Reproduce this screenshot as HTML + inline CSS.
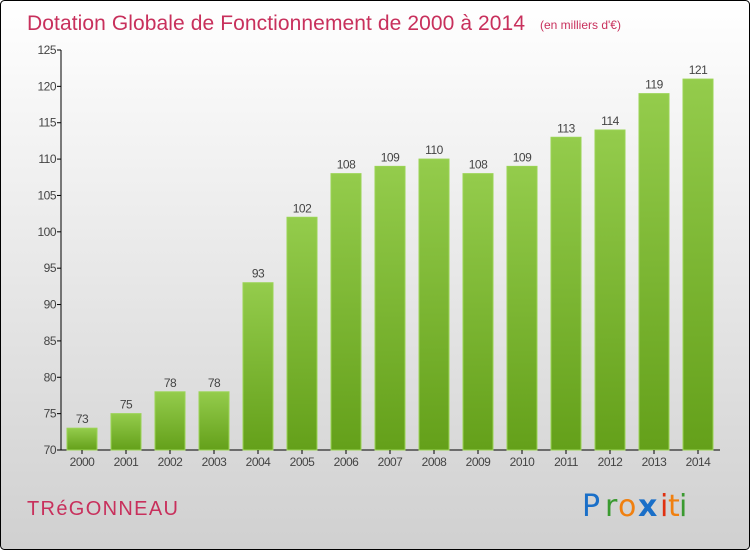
<!DOCTYPE html>
<html><head><meta charset="utf-8"><style>
html,body{margin:0;padding:0}
body{width:750px;height:550px;overflow:hidden;font-family:"Liberation Sans",sans-serif}
</style></head><body>
<svg width="750" height="550" xmlns="http://www.w3.org/2000/svg">
<defs>
<linearGradient id="bg" x1="0" y1="0" x2="0" y2="1"><stop offset="0" stop-color="#ffffff"/><stop offset="1" stop-color="#d0d0d0"/></linearGradient>
<linearGradient id="bar" x1="0" y1="0" x2="0" y2="1"><stop offset="0" stop-color="#94cc4c"/><stop offset="1" stop-color="#64a01a"/></linearGradient>
</defs>
<rect x="0.5" y="0.5" width="749" height="549" rx="4" fill="url(#bg)" stroke="#000"/>
<text x="27" y="30" font-size="21" fill="#c8305c" textLength="498">Dotation Globale de Fonctionnement de 2000 à 2014</text>
<text x="540" y="29" font-size="12" fill="#c8305c">(en milliers d'€)</text>
<g id="yaxis"></g>
<g id="bars"></g>
<text x="27" y="515" font-size="20" fill="#c8305c" textLength="151">TRéGONNEAU</text>
<g font-size="30" font-family="'DejaVu Sans',sans-serif">
<text x="582" y="516" fill="#1a6fc8">P</text><text x="605" y="516" fill="#3a9a30">r</text><text x="618" y="516" fill="#f08010">o</text><text x="638" y="516" fill="#1a6fc8" font-weight="bold">x</text><text x="660" y="516" fill="#e03010">i</text><text x="668" y="516" fill="#f08010">t</text><text x="679" y="516" fill="#3a9a30">i</text>
</g>
</svg>
<script>
const years=["2000","2001","2002","2003","2004","2005","2006","2007","2008","2009","2010","2011","2012","2013","2014"];
const values=[73,75,78,78,93,102,108,109,110,108,109,113,114,119,121];
const yTicks=[70,75,80,85,90,95,100,105,110,115,120,125];
const NS="http://www.w3.org/2000/svg";
const y0=450,y1=50,vMin=70,vMax=125,axisX=61;
function yS(v){return y0-(v-vMin)/(vMax-vMin)*(y0-y1);}
function xS(i){return 82+i*44;}
function mk(t,a,p){const e=document.createElementNS(NS,t);for(const k in a)e.setAttribute(k,a[k]);p.appendChild(e);return e;}
const ya=document.getElementById('yaxis');
let l=mk('line',{x1:axisX,y1:y1,x2:axisX,y2:y0,stroke:'#000'},ya);


l=mk('line',{x1:axisX,y1:y0,x2:720,y2:y0,stroke:'#000'},ya);


yTicks.forEach(v=>{
 const tk=mk('line',{x1:axisX-4,y1:yS(v),x2:axisX,y2:yS(v),stroke:'#000'},ya);
 
 
 const t=mk('text',{x:axisX-5,y:yS(v)+4,'font-size':12,fill:'#444','text-anchor':'end','letter-spacing':'-0.5'},ya);
 t.textContent=v;
 
 
});
const bg=document.getElementById('bars');
years.forEach((yr,i)=>{
 const x=xS(i),v=values[i];
 const r=mk('rect',{x:x-15,y:yS(v),width:30,height:y0-yS(v),fill:'url(#bar)',stroke:'#9ad454','stroke-width':1},bg);
 
 
 const t=mk('text',{x:x,y:yS(v)-5,'font-size':12,fill:'#444','text-anchor':'middle','letter-spacing':'-0.5'},bg);
 t.textContent=v;
 
 
 const tk=mk('line',{x1:x,y1:y0,x2:x,y2:y0+4,stroke:'#000'},bg);
 
 
 const xl=mk('text',{x:x,y:y0+16,'font-size':12,fill:'#444','text-anchor':'middle','letter-spacing':'-0.5'},bg);
 xl.textContent=yr;
 
 
});
</script>
</body></html>
